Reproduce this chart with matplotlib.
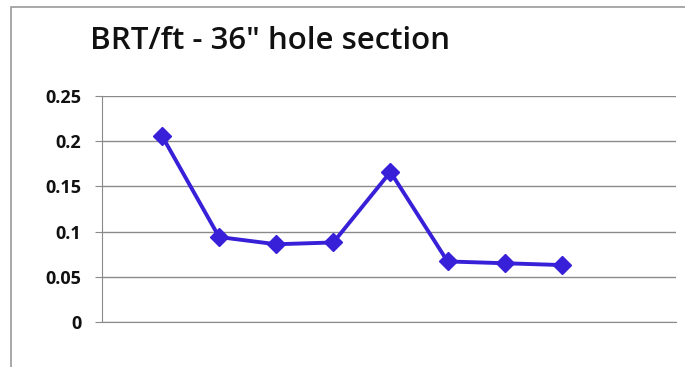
import matplotlib.pyplot as plt
from matplotlib.patches import Rectangle

# values (8 points, no category labels shown)
x_pos = [1, 2, 3, 4, 5, 6, 7, 8]
brt_per_ft = [0.206, 0.094, 0.086, 0.088, 0.166, 0.067, 0.065, 0.063]
y_ticks = [0, 0.05, 0.1, 0.15, 0.2, 0.25]
y_labels = ['0', '0.05', '0.1', '0.15', '0.2', '0.25']
title = 'BRT/ft - 36" hole section'

fig = plt.figure(figsize=(6.85, 3.67), dpi=100)
ax = fig.add_axes([0.1489, 0.1226, 0.838, 0.6158])

# chart border (cropped on the right and bottom)
fig.patches.append(Rectangle((11 / 685, -0.1), 1.2, 1.1 - 7 / 367,
                             transform=fig.transFigure, fill=False,
                             edgecolor='#9a9a9a', linewidth=1.2))

ax.plot(x_pos, brt_per_ft, color='#3720d8', linewidth=2.8,
        marker='D', markersize=9, markeredgecolor='#3720d8')

ax.set_xlim(-0.05, 10.0)
ax.set_ylim(0, 0.25)
ax.set_yticks(y_ticks)
ax.set_yticklabels(y_labels, fontsize=13, fontweight='bold', family='Open Sans')
ax.set_xticks([])
ax.grid(axis='y', color='#8a8a8a', linewidth=1)
ax.set_axisbelow(True)
for s in ['top', 'right']:
    ax.spines[s].set_visible(False)
ax.spines['left'].set_color('#8a8a8a')
ax.spines['bottom'].set_color('#8a8a8a')
ax.tick_params(axis='y', length=5, pad=10, colors='#8a8a8a', labelcolor='#111111')

fig.text(270 / 685, 1 - 41 / 367, title, ha='center', va='center',
         fontsize=22.5, fontweight='semibold', family='Open Sans', color='#111111')

fig.savefig('out.png', dpi=100)
